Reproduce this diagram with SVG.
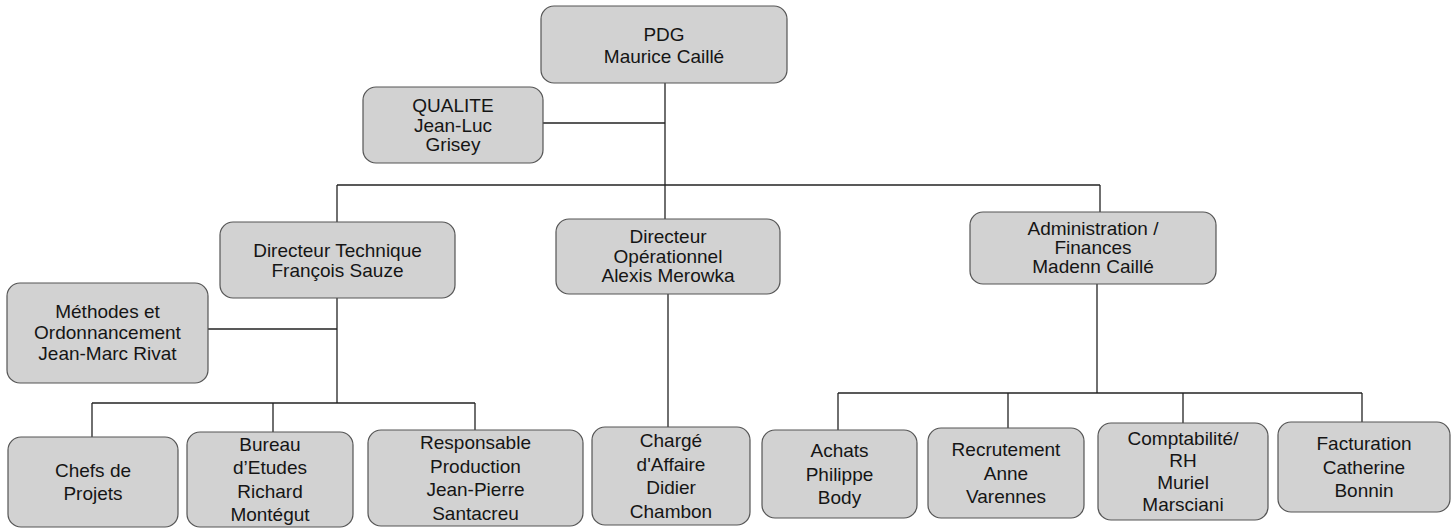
<svg xmlns="http://www.w3.org/2000/svg" width="1453" height="530" viewBox="0 0 1453 530">
<style>
.box{fill:#d2d2d2;stroke:#555555;stroke-width:1.2}
.t{font-family:"Liberation Sans",Arial,sans-serif;font-size:19px;fill:#151515;text-anchor:middle}
.b{font-size:19px}
.ln{fill:none;stroke:#222222;stroke-width:1.3}
</style>
<rect width="1453" height="530" fill="#ffffff"/>
<g id="connectors">
<path class="ln" d="M665 83 V185"/>
<path class="ln" d="M543 123 H665"/>
<path class="ln" d="M337 185 H1100"/>
<path class="ln" d="M337 185 V222"/>
<path class="ln" d="M665 185 V219"/>
<path class="ln" d="M1100 185 V212"/>
<path class="ln" d="M337 298 V403"/>
<path class="ln" d="M208 329 H337"/>
<path class="ln" d="M92 403 H475"/>
<path class="ln" d="M92 403 V437"/>
<path class="ln" d="M273 403 V432"/>
<path class="ln" d="M475 403 V430"/>
<path class="ln" d="M668 294 V427"/>
<path class="ln" d="M1097 284 V393"/>
<path class="ln" d="M838 393 H1362"/>
<path class="ln" d="M838 393 V430"/>
<path class="ln" d="M1008 393 V428"/>
<path class="ln" d="M1183 393 V423"/>
<path class="ln" d="M1362 393 V422"/>
</g>
<g id="pdg">
<rect class="box" x="541" y="6" width="246" height="77" rx="13"/>
<text class="t" x="664" y="41">PDG</text>
<text class="t" x="664" y="63">Maurice Caillé</text>
</g>
<g id="qualite">
<rect class="box" x="363" y="87" width="180" height="76" rx="13"/>
<text class="t" x="453" y="112">QUALITE</text>
<text class="t" x="453" y="131.5">Jean-Luc</text>
<text class="t" x="453" y="151">Grisey</text>
</g>
<g id="dir-tech">
<rect class="box" x="220" y="222" width="235" height="76" rx="13"/>
<text class="t" x="337.5" y="257">Directeur Technique</text>
<text class="t" x="337.5" y="277">François Sauze</text>
</g>
<g id="dir-op">
<rect class="box" x="556" y="219" width="224" height="75" rx="13"/>
<text class="t" x="668" y="243">Directeur</text>
<text class="t" x="668" y="262.5">Opérationnel</text>
<text class="t" x="668" y="282">Alexis Merowka</text>
</g>
<g id="admin">
<rect class="box" x="970" y="212" width="246" height="72" rx="13"/>
<text class="t" x="1093" y="235">Administration /</text>
<text class="t" x="1093" y="254">Finances</text>
<text class="t" x="1093" y="273">Madenn Caillé</text>
</g>
<g id="methodes">
<rect class="box" x="7" y="283" width="201" height="100" rx="13"/>
<text class="t" x="107.5" y="318">Méthodes et</text>
<text class="t" x="107.5" y="339">Ordonnancement</text>
<text class="t" x="107.5" y="360">Jean-Marc Rivat</text>
</g>
<g id="chefs">
<rect class="box" x="8" y="437" width="170" height="90" rx="13"/>
<text class="t b" x="93" y="476.5">Chefs de</text>
<text class="t b" x="93" y="500">Projets</text>
</g>
<g id="bureau">
<rect class="box" x="187" y="432" width="166" height="95" rx="13"/>
<text class="t b" x="270" y="450.5">Bureau</text>
<text class="t b" x="270" y="474">d’Etudes</text>
<text class="t b" x="270" y="497.5">Richard</text>
<text class="t b" x="270" y="521">Montégut</text>
</g>
<g id="production">
<rect class="box" x="368" y="430" width="215" height="96" rx="13"/>
<text class="t b" x="475.5" y="449">Responsable</text>
<text class="t b" x="475.5" y="472.5">Production</text>
<text class="t b" x="475.5" y="496">Jean-Pierre</text>
<text class="t b" x="475.5" y="519.5">Santacreu</text>
</g>
<g id="charge">
<rect class="box" x="592" y="427" width="158" height="98" rx="13"/>
<text class="t b" x="671" y="447">Chargé</text>
<text class="t b" x="671" y="470.5">d'Affaire</text>
<text class="t b" x="671" y="494">Didier</text>
<text class="t b" x="671" y="517.5">Chambon</text>
</g>
<g id="achats">
<rect class="box" x="762" y="430" width="155" height="88" rx="13"/>
<text class="t b" x="839.5" y="457">Achats</text>
<text class="t b" x="839.5" y="480.5">Philippe</text>
<text class="t b" x="839.5" y="504">Body</text>
</g>
<g id="recrutement">
<rect class="box" x="928" y="428" width="156" height="90" rx="13"/>
<text class="t b" x="1006" y="456">Recrutement</text>
<text class="t b" x="1006" y="479.5">Anne</text>
<text class="t b" x="1006" y="503">Varennes</text>
</g>
<g id="comptabilite">
<rect class="box" x="1098" y="423" width="170" height="97" rx="13"/>
<text class="t b" x="1183" y="445">Comptabilité/</text>
<text class="t b" x="1183" y="467">RH</text>
<text class="t b" x="1183" y="489">Muriel</text>
<text class="t b" x="1183" y="511">Marsciani</text>
</g>
<g id="facturation">
<rect class="box" x="1278" y="422" width="172" height="90" rx="13"/>
<text class="t b" x="1364" y="450">Facturation</text>
<text class="t b" x="1364" y="473.5">Catherine</text>
<text class="t b" x="1364" y="497">Bonnin</text>
</g>
</svg>
